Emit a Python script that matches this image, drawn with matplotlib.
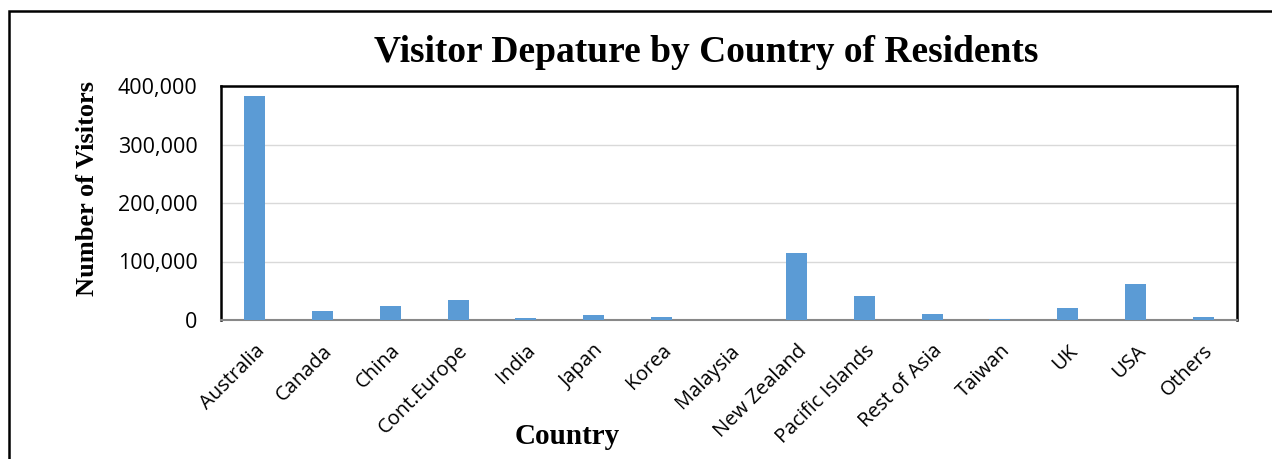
import matplotlib
matplotlib.use("Agg")
from matplotlib import pyplot as plt
from matplotlib.patches import Rectangle
from matplotlib.ticker import FuncFormatter

countries = ["Australia", "Canada", "China", "Cont.Europe", "India", "Japan", "Korea",
             "Malaysia", "New Zealand", "Pacific Islands", "Rest of Asia", "Taiwan",
             "UK", "USA", "Others"]
visitors = [383000, 15000, 24500, 33700, 2800, 8500, 4500,
            500, 115000, 41500, 10500, 1800, 21000, 62000, 4800]

fig = plt.figure(figsize=(12.72, 4.59), dpi=100)
ax = fig.add_axes([221 / 1272, 1 - 320 / 459, (1237 - 221) / 1272, (320 - 86) / 459])

x = range(len(countries))
ax.bar(x, visitors, width=0.31, color="#5B9BD5", zorder=3)

ax.set_ylim(0, 400000)
ax.set_xlim(-0.5, len(countries) - 0.5)
ax.set_yticks([0, 100000, 200000, 300000, 400000])
ax.yaxis.set_major_formatter(FuncFormatter(lambda v, p: f"{int(v):,}"))
ax.grid(axis="y", color="#D9D9D9", linewidth=1, zorder=0)
ax.tick_params(axis="y", length=0, pad=17)
ax.tick_params(axis="x", length=0, pad=15)
ax.set_xticks(list(x))
ax.set_xticklabels(countries, rotation=45, ha="right", rotation_mode="anchor",
                   fontfamily="Open Sans", fontsize=14.5)
for lab in ax.get_yticklabels():
    lab.set_fontfamily("Open Sans")
    lab.set_fontsize(15.5)

for s in ["left", "top", "right"]:
    ax.spines[s].set_color("black")
    ax.spines[s].set_linewidth(1.8)
ax.spines["bottom"].set_color("#888888")
ax.spines["bottom"].set_linewidth(1.5)

fig.text(706 / 1272, 1 - 52 / 459, "Visitor Depature by Country of Residents",
         ha="center", va="center", fontfamily="Liberation Serif", fontweight="bold",
         fontsize=27)
fig.text(87 / 1272, 1 - 188 / 459, "Number of Visitors", rotation=90,
         ha="center", va="center", fontfamily="Liberation Serif", fontweight="bold",
         fontsize=19)
fig.text(567 / 1272, 1 - 437 / 459, "Country", ha="center", va="center",
         fontfamily="Liberation Serif", fontweight="bold", fontsize=21)

# outer chart border, running off the right and bottom edges
fig.patches.append(Rectangle((9 / 1272, -0.1), 1.2, 1.1 - 11 / 459,
                             transform=fig.transFigure, fill=False,
                             edgecolor="black", linewidth=1.8))

fig.savefig("out.png", dpi=100)
